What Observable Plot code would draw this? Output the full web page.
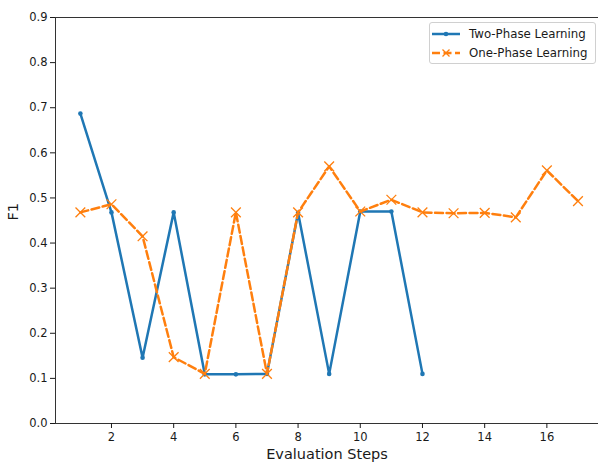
<!DOCTYPE html>
<html>
<head>
<meta charset="utf-8">
<script src="https://cdn.jsdelivr.net/npm/d3@7"></script>
<script src="https://cdn.jsdelivr.net/npm/@observablehq/plot@0.6"></script>
<style>
  body { margin: 0; background: #fff; }
  #wrap { position: relative; width: 598px; height: 465px; overflow: hidden; font-family: "DejaVu Sans", sans-serif; }
  #legend { position: absolute; left: 429px; top: 22px; width: 165px; height: 40px; border: 1px solid #d0d0d0; border-radius: 3px; background: rgba(255,255,255,0.85); font-size: 11.8px; color: #1a1a1a; }
  .row { position: absolute; left: 2px; height: 14px; display: flex; align-items: center; }
  .row svg { width: 28px; height: 14px; }
  .row span { margin-left: 9px; white-space: nowrap; }
</style>
</head>
<body>
<div id="wrap">
  <div id="chart"></div>
  <div id="legend"></div>
</div>
<script>
const seriesNames = ["Two-Phase Learning", "One-Phase Learning"];
const twoPhaseSteps = [1, 2, 3, 4, 5, 6, 7, 8, 9, 10, 11, 12];
const twoPhaseF1 = [0.687, 0.468, 0.146, 0.468, 0.109, 0.109, 0.110, 0.467, 0.110, 0.470, 0.470, 0.110];
const onePhaseSteps = [1, 2, 3, 4, 5, 6, 7, 8, 9, 10, 11, 12, 13, 14, 15, 16, 17];
const onePhaseF1 = [0.468, 0.486, 0.415, 0.147, 0.110, 0.468, 0.110, 0.468, 0.570, 0.470, 0.496, 0.468, 0.466, 0.467, 0.457, 0.561, 0.493];
const xTicks = [2, 4, 6, 8, 10, 12, 14, 16];
const yTicks = [0.0, 0.1, 0.2, 0.3, 0.4, 0.5, 0.6, 0.7, 0.8, 0.9];
const xDomain = [0.2, 17.66];
const yDomain = [0, 0.9];
const colors = ["#1f77b4", "#ff7f0e"];

const two = twoPhaseSteps.map((s, i) => ({step: s, f1: twoPhaseF1[i]}));
const one = onePhaseSteps.map((s, i) => ({step: s, f1: onePhaseF1[i]}));

const chart = Plot.plot({
  width: 598,
  height: 465,
  marginLeft: 55,
  marginTop: 17,
  marginBottom: 42,
  marginRight: 0,
  style: {fontFamily: "DejaVu Sans, sans-serif", fontSize: "11.5px", color: "#1a1a1a", background: "#fff"},
  x: {domain: xDomain},
  y: {domain: yDomain},
  marks: [
    Plot.ruleX([xDomain[0]], {stroke: "#333", strokeWidth: 1}),
    Plot.ruleY(yDomain, {stroke: "#333", strokeWidth: 1}),
    Plot.axisY({ticks: yTicks, tickFormat: d3.format(".1f"), tickSize: 5, tickPadding: 3, fontSize: 11.5, label: null}),
    Plot.axisX({ticks: xTicks, tickSize: 5, tickPadding: 4, fontSize: 11.5, label: null}),
    Plot.line(two, {x: "step", y: "f1", stroke: colors[0], strokeWidth: 2.5}),
    Plot.dot(two, {x: "step", y: "f1", r: 2.3, fill: colors[0], stroke: null}),
    Plot.line(one, {x: "step", y: "f1", stroke: colors[1], strokeWidth: 2.5, strokeDasharray: "8,3.5"}),
    Plot.dot(one, {x: "step", y: "f1", symbol: "times", r: 4.5, stroke: colors[1], strokeWidth: 1.3}),
    Plot.text(["Evaluation Steps"], {frameAnchor: "bottom", dy: 35, fontSize: 14.5, fill: "#1a1a1a"}),
    Plot.text(["F1"], {frameAnchor: "left", dx: -42, rotate: -90, fontSize: 14.5, fill: "#1a1a1a"})
  ]
});
document.getElementById("chart").appendChild(chart);

const legend = document.getElementById("legend");
seriesNames.forEach((name, i) => {
  const row = document.createElement("div");
  row.className = "row";
  row.style.top = (i === 0 ? 4 : 23) + "px";
  const marker = i === 0
    ? `<circle cx="14" cy="7" r="2.3" fill="${colors[0]}"/>`
    : `<path d="M10.5,3.5L17.5,10.5M17.5,3.5L10.5,10.5" stroke="${colors[1]}" stroke-width="1.3"/>`;
  const dash = i === 0 ? "" : `stroke-dasharray="8,3.5"`;
  row.innerHTML = `<svg viewBox="0 0 28 14"><line x1="0" y1="7" x2="28" y2="7" stroke="${colors[i]}" stroke-width="2.5" ${dash}/>${marker}</svg><span>${name}</span>`;
  legend.appendChild(row);
});
</script>
</body>
</html>
